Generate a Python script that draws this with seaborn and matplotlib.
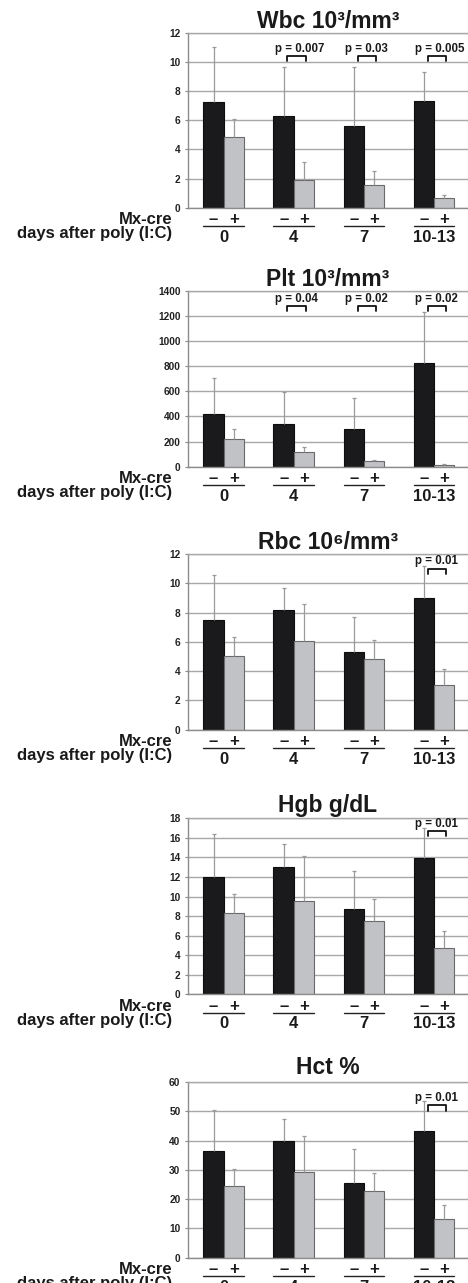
import numpy as np
import pandas as pd
import matplotlib
matplotlib.use("Agg")
import matplotlib.pyplot as plt
import matplotlib.transforms as mtransforms
import seaborn as sns

# ---------------- data ----------------
days = ["0", "4", "7", "10-13"]
genotypes = ["-", "+"]

titles = ["Wbc 10\u00b3/mm\u00b3", "Plt 10\u00b3/mm\u00b3", "Rbc 10\u2076/mm\u00b3", "Hgb g/dL", "Hct %"]

wbc_neg = [7.24, 6.32, 5.57, 7.31]
wbc_pos = [4.88, 1.92, 1.56, 0.69]
wbc_neg_sd = [3.76, 3.30, 4.05, 1.99]
wbc_pos_sd = [1.17, 1.24, 0.96, 0.20]
wbc_p = ["", "p = 0.007", "p = 0.03", "p = 0.005"]

plt_neg = [422, 337, 302, 822]
plt_pos = [217, 114, 42, 13]
plt_neg_sd = [284, 260, 244, 409]
plt_pos_sd = [80, 40, 14, 6]
plt_p = ["", "p = 0.04", "p = 0.02", "p = 0.02"]

rbc_neg = [7.49, 8.17, 5.34, 9.02]
rbc_pos = [5.00, 6.03, 4.82, 3.04]
rbc_neg_sd = [3.08, 1.49, 2.35, 2.14]
rbc_pos_sd = [1.30, 2.55, 1.28, 1.12]
rbc_p = ["", "", "", "p = 0.01"]

hgb_neg = [12.0, 13.07, 8.77, 13.96]
hgb_pos = [8.29, 9.52, 7.54, 4.71]
hgb_neg_sd = [4.35, 2.29, 3.89, 3.04]
hgb_pos_sd = [1.95, 4.61, 2.19, 1.74]
hgb_p = ["", "", "", "p = 0.01"]

hct_neg = [36.4, 39.9, 25.5, 43.4]
hct_pos = [24.4, 29.1, 22.7, 13.1]
hct_neg_sd = [14.2, 7.4, 11.6, 10.1]
hct_pos_sd = [6.0, 12.3, 6.3, 4.8]
hct_p = ["", "", "", "p = 0.01"]

y_max = [12, 1400, 12, 18, 60]
y_step = [2, 200, 2, 2, 10]

panels = [
    (wbc_neg, wbc_pos, wbc_neg_sd, wbc_pos_sd, wbc_p),
    (plt_neg, plt_pos, plt_neg_sd, plt_pos_sd, plt_p),
    (rbc_neg, rbc_pos, rbc_neg_sd, rbc_pos_sd, rbc_p),
    (hgb_neg, hgb_pos, hgb_neg_sd, hgb_pos_sd, hgb_p),
    (hct_neg, hct_pos, hct_neg_sd, hct_pos_sd, hct_p),
]

# ---------------- layout / style ----------------
W, H = 468, 1283
axes_px = [(32.7, 207.7), (290.7, 466.7), (554.0, 729.7), (818.3, 994.3), (1082.0, 1257.7)]
title_pad_px = [2.0, 3.4, 4.0, 6.6, 7.7]
bracket_top = [10.38, 1276, 10.98, 16.69, 52.0]
left_px = 187.7

BLACK = "#1a1a1c"
GREY = "#c1c2c6"

sns.set_theme(style="white")
plt.rcParams["font.family"] = ["Liberation Sans", "DejaVu Sans"]
plt.rcParams["font.weight"] = "bold"

fig = plt.figure(figsize=(W / 100, H / 100), dpi=100)

for k, (neg, pos, neg_sd, pos_sd, pvals) in enumerate(panels):
    top, bot = axes_px[k]
    ax = fig.add_axes([left_px / W, 1 - bot / H, 1 - left_px / W, (bot - top) / H])

    df = pd.DataFrame({
        "day": days + days,
        "cre": [genotypes[0]] * 4 + [genotypes[1]] * 4,
        "value": list(neg) + list(pos),
    })
    sns.barplot(data=df, x="day", y="value", hue="cre", order=days, hue_order=genotypes,
                palette={"-": BLACK, "+": GREY}, width=0.58, errorbar=None,
                saturation=1, legend=False, ax=ax, linewidth=0.8)
    edge_cols = ["#0d0d0d", "#6a6a6a"]
    for cont, ec, means, sds in zip(ax.containers, edge_cols, [neg, pos], [neg_sd, pos_sd]):
        xs = []
        for p in cont:
            p.set_edgecolor(ec)
            p.set_zorder(2)
            xs.append(p.get_x() + p.get_width() / 2)
        eb = ax.errorbar(xs, means, yerr=[np.zeros(len(sds)), sds], fmt="none",
                         ecolor="#9a9a9a", elinewidth=0.9, capsize=1.2, capthick=0.9, zorder=3)
        caps = eb[1]
        if len(caps) > 1:
            caps[0].set_visible(False)

    ymax = y_max[k]
    ax.set_ylim(0, ymax)
    ax.set_xlim(-0.514, 3.486)
    ticks = np.arange(0, ymax + y_step[k] / 2, y_step[k])
    ax.set_yticks(ticks)
    ax.set_yticklabels([f"{int(t)}" for t in ticks], fontsize=7.3, fontweight="bold", color="#222222")
    ax.tick_params(axis="y", length=2.2, width=0.8, color="#888888", pad=3.0, left=True)
    ax.set_xticks([])
    ax.set_xlabel("")
    ax.set_ylabel("")
    ax.set_axisbelow(True)
    ax.yaxis.grid(True, color="#a8a8a8", lw=1.0)
    ax.xaxis.grid(False)
    ax.spines["right"].set_visible(False)
    ax.spines["top"].set_color("#a8a8a8")
    ax.spines["left"].set_color("#8c8c8c")
    ax.spines["bottom"].set_color("#8c8c8c")
    for s in ax.spines.values():
        s.set_linewidth(1.0)

    ax.set_title(titles[k], fontsize=16.5, fontweight="bold", color="#1a1a1a",
                 pad=title_pad_px[k] * 0.72)

    # significance brackets
    leg = 0.029 * ymax
    for i, ptxt in enumerate(pvals):
        if not ptxt:
            continue
        bt = bracket_top[k]
        ax.plot([i - 0.09, i - 0.09, i + 0.17, i + 0.17], [bt - leg, bt, bt, bt - leg],
                color="#111111", lw=1.3, clip_on=False, zorder=4)
        ax.annotate(ptxt, (i - 0.27, bt), xytext=(0, 4.5), textcoords="offset pixels",
                    ha="left", va="baseline", fontsize=8.3, fontweight="bold",
                    color="#1a1a1a", annotation_clip=False, zorder=5)

    # labels under the axis
    trans = mtransforms.blended_transform_factory(ax.transData, ax.transAxes)
    line_trans = trans + mtransforms.ScaledTranslation(0, -18.7 / 100, fig.dpi_scale_trans)
    for cont, sym in zip(ax.containers, ["\u2013", "+"]):
        for p in cont:
            xc = p.get_x() + p.get_width() / 2
            ax.annotate(sym, (xc, 0), xycoords=trans, xytext=(0, -16.5),
                        textcoords="offset pixels", ha="center", va="baseline",
                        fontsize=12, fontweight="bold", color="#1a1a1a", annotation_clip=False)
    for i, d in enumerate(days):
        ax.plot([i - 0.29, i + 0.29], [0, 0], transform=line_trans, color="#222222",
                lw=1.0, clip_on=False)
        ax.annotate(d, (i, 0), xycoords=trans, xytext=(0, -34),
                    textcoords="offset pixels", ha="center", va="baseline",
                    fontsize=12, fontweight="bold", color="#1a1a1a", annotation_clip=False)
    ax.annotate("Mx-cre", (0, 0), xycoords="axes fraction", xytext=(-15, -16.5),
                textcoords="offset pixels", ha="right", va="baseline", fontsize=12,
                fontweight="bold", color="#1a1a1a", annotation_clip=False)
    ax.annotate("days after poly (I:C)", (0, 0), xycoords="axes fraction", xytext=(-16, -30.5),
                textcoords="offset pixels", ha="right", va="baseline", fontsize=12,
                fontweight="bold", color="#1a1a1a", annotation_clip=False)

fig.savefig("out.png", dpi=100)
